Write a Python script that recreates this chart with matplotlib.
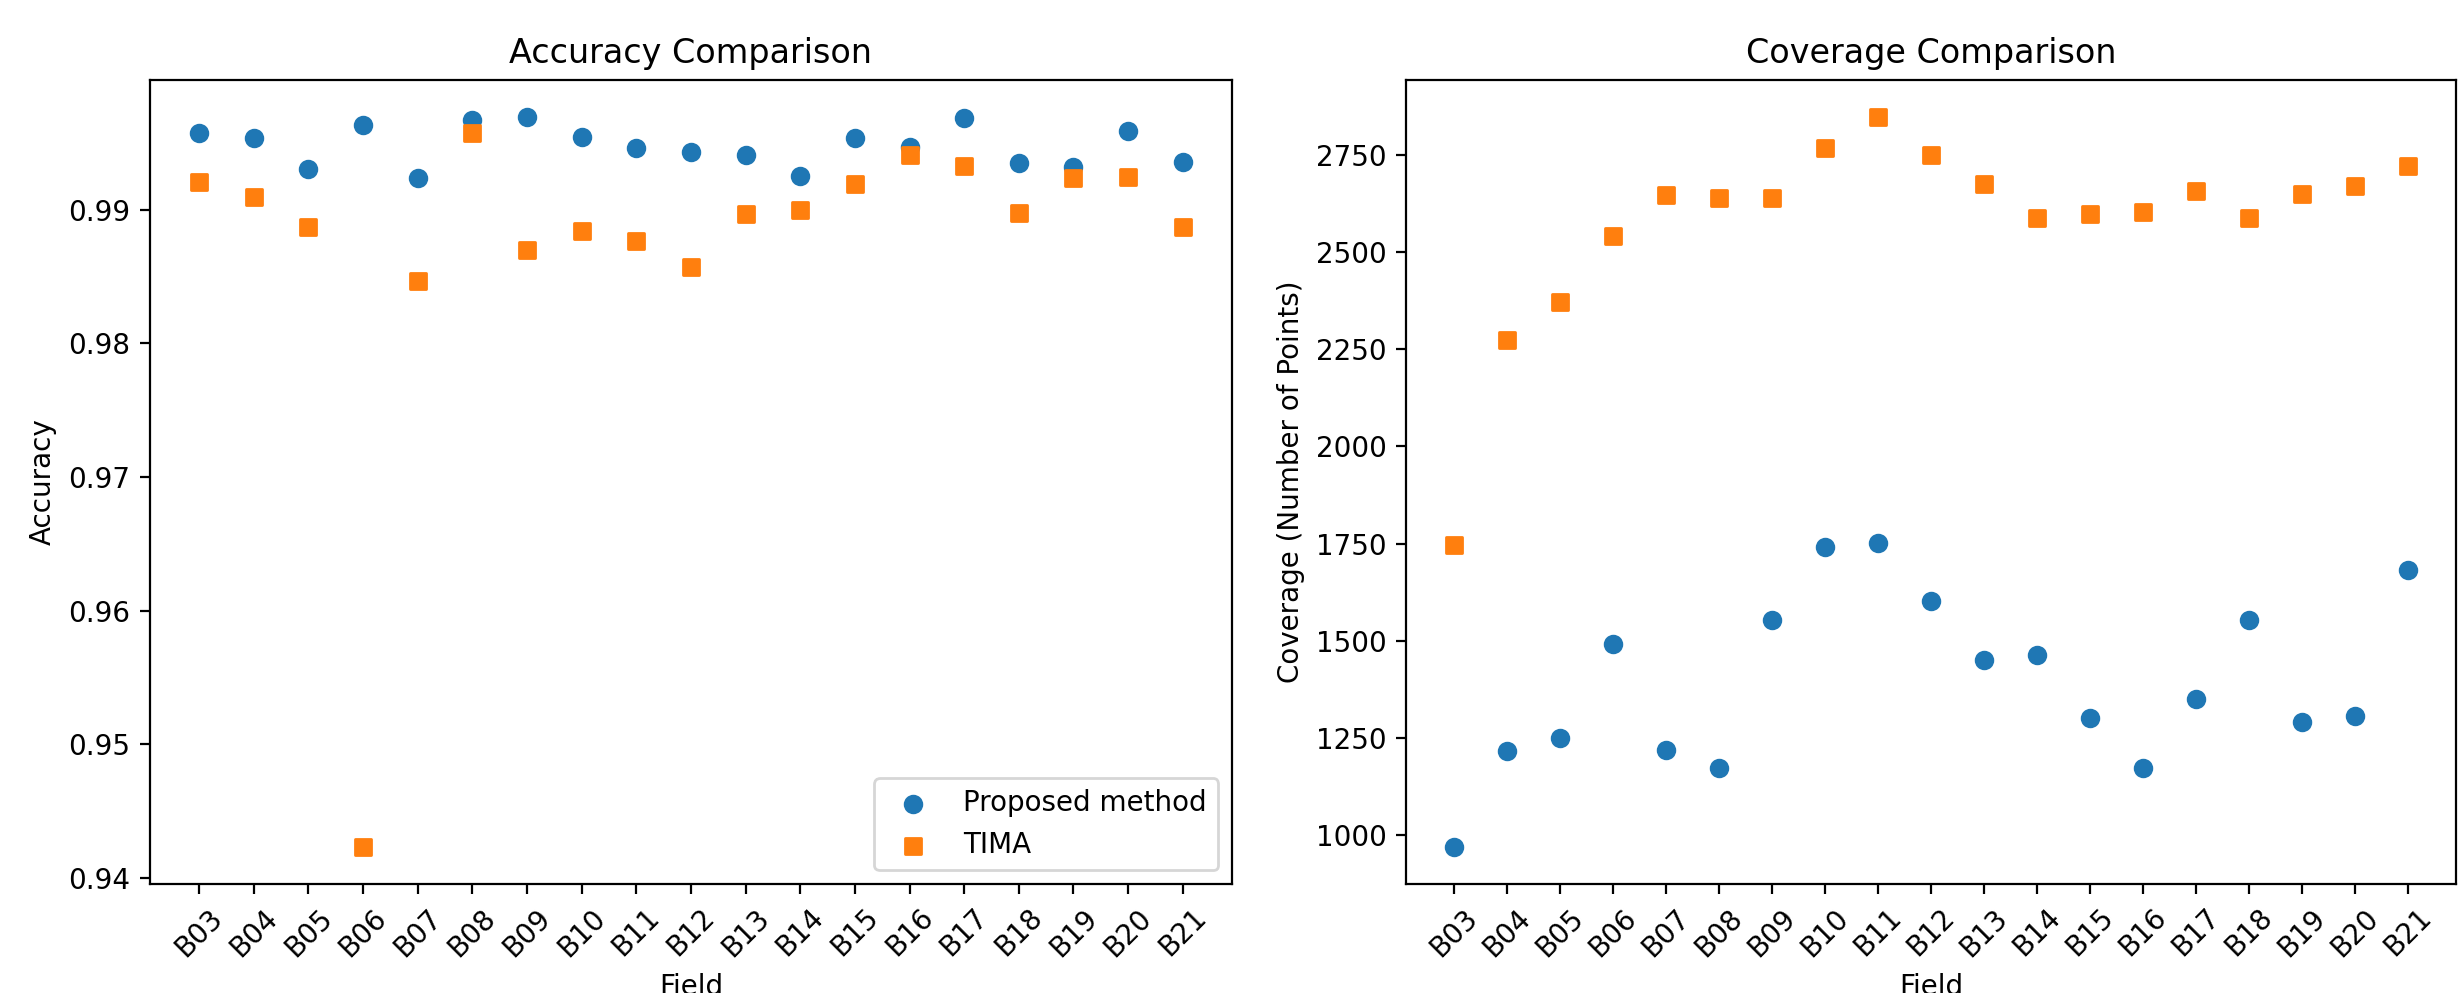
import matplotlib
matplotlib.use("Agg")
import matplotlib.pyplot as plt

fields = ["B03", "B04", "B05", "B06", "B07", "B08", "B09", "B10", "B11", "B12",
          "B13", "B14", "B15", "B16", "B17", "B18", "B19", "B20", "B21"]

acc_proposed = [0.99572, 0.99535, 0.99304, 0.99634, 0.99239, 0.99672, 0.99697, 0.99547,
                0.99463, 0.99430, 0.99408, 0.99249, 0.99537, 0.99468, 0.99687, 0.99346,
                0.99323, 0.99592, 0.99356]
acc_tima = [0.99204, 0.99097, 0.98873, 0.94228, 0.98468, 0.99577, 0.98701, 0.98838,
            0.98766, 0.98572, 0.98968, 0.98998, 0.99192, 0.99413, 0.99328, 0.98978,
            0.99236, 0.99244, 0.98871]

cov_proposed = [968, 1217, 1249, 1492, 1220, 1173, 1554, 1740, 1751, 1601,
                1450, 1462, 1301, 1173, 1349, 1554, 1290, 1305, 1682]
cov_tima = [1746, 2273, 2373, 2541, 2647, 2640, 2640, 2768, 2849, 2750,
            2676, 2588, 2599, 2604, 2658, 2588, 2651, 2670, 2721]

fig = plt.figure(figsize=(12.29, 4.965), dpi=200)
ax1 = fig.add_axes([0.0610, 0.1098, 0.5012 - 0.0610, 0.9194 - 0.1098])
ax2 = fig.add_axes([0.5720, 0.1098, 0.9992 - 0.5720, 0.9194 - 0.1098])

ax1.scatter(fields, acc_proposed, marker="o", color="tab:blue", label="Proposed method")
ax1.scatter(fields, acc_tima, marker="s", color="tab:orange", label="TIMA")
ax1.set_title("Accuracy Comparison")
ax1.set_xlabel("Field")
ax1.set_ylabel("Accuracy")
ax1.legend(loc="lower right")
ax1.tick_params(axis="x", rotation=45)

ax2.scatter(fields, cov_proposed, marker="o", color="tab:blue", label="Proposed method")
ax2.scatter(fields, cov_tima, marker="s", color="tab:orange", label="TIMA")
ax2.set_title("Coverage Comparison")
ax2.set_xlabel("Field")
ax2.set_ylabel("Coverage (Number of Points)")
ax2.tick_params(axis="x", rotation=45)

fig.savefig("out.png", dpi=200)
